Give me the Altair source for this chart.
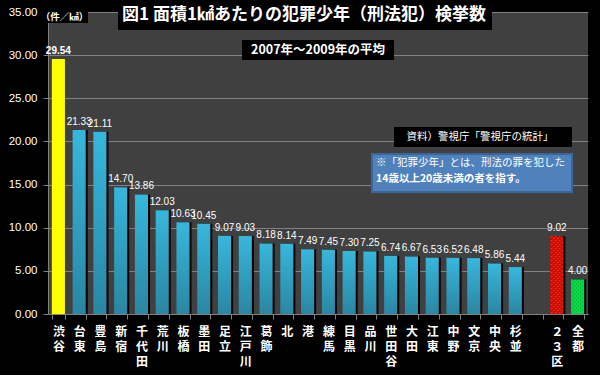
import altair as alt
import pandas as pd

# ---- data ----
categories = ["渋谷", "台東", "豊島", "新宿", "千代田", "荒川", "板橋", "墨田", "足立", "江戸川",
              "葛飾", "北", "港", "練馬", "目黒", "品川", "世田谷", "大田", "江東", "中野",
              "文京", "中央", "杉並", "２３区", "全都"]
values = [29.54, 21.33, 21.11, 14.70, 13.86, 12.03, 10.63, 10.45, 9.07, 9.03,
          8.18, 8.14, 7.49, 7.45, 7.30, 7.25, 6.74, 6.67, 6.53, 6.52,
          6.48, 5.86, 5.44, 9.02, 4.00]
groups = ["top"] + ["ward"] * 22 + ["ku", "all"]
domain = categories[:23] + [" "] + categories[23:]
y_ticks = [0, 5, 10, 15, 20, 25, 30, 35]

title_text = ["図1 面積1㎢あたりの犯罪少年（刑法犯）検挙数"]
unit_text = ["（件／㎢）"]
subtitle_text = ["2007年～2009年の平均"]
source_text = ["資料）警視庁「警視庁の統計」"]
note_line1 = ["※「犯罪少年」とは、刑法の罪を犯した"]
note_line2 = ["14歳以上20歳未満の者を指す。"]

df = pd.DataFrame({"cat": categories, "v": values, "g": groups})

GRAY = "#808080"
NUMFONT = "Liberation Sans"
xscale = alt.Scale(domain=domain, paddingInner=0.37, paddingOuter=0.185)
yscale = alt.Scale(domain=[0, 35], nice=False)

xaxis = alt.Axis(labelExpr="datum.value ? split(datum.value, '') : ''", labelAngle=0,
                 labelColor="white",
                 labelFont="Noto Sans CJK JP", labelFontSize=12, labelFontWeight="bold",
                 labelLineHeight=15, labelBaseline="top", labelPadding=7,
                 labelOverlap=False, tickBand="extent", tickColor=GRAY, tickSize=5,
                 domainColor=GRAY, title=None, grid=False)
yaxis = alt.Axis(values=y_ticks, format=".2f", labelColor="white", labelFont=NUMFONT,
                 labelFontSize=11.5, tickColor=GRAY, tickSize=5, domainColor=GRAY,
                 gridColor=GRAY, gridWidth=1, title=None, labelPadding=6)

base = alt.Chart(df)

shadow = base.transform_filter("datum.g != 'top'").mark_bar(color="black", xOffset=2).encode(
    x=alt.X("cat:N", scale=xscale, axis=xaxis, sort=domain),
    y=alt.Y("v:Q", scale=yscale, axis=yaxis),
)

xenc = alt.X("cat:N", scale=xscale, sort=domain)
yenc = alt.Y("v:Q", scale=yscale)

grad = alt.Gradient(gradient="linear",
                    stops=[alt.GradientStop(color="#37b7dc", offset=0),
                           alt.GradientStop(color="#2a86a2", offset=1)],
                    x1=0, x2=0, y1=0, y2=1)

blue = base.transform_filter("datum.g == 'ward'").mark_bar(color=grad).encode(x=xenc, y=yenc)
yellow = base.transform_filter("datum.g == 'top'").mark_bar(color="#ffff00").encode(x=xenc, y=yenc)
red = base.transform_filter("datum.g == 'ku'").mark_bar(color="#e00000").encode(x=xenc, y=yenc)
green = base.transform_filter("datum.g == 'all'").mark_bar(color="#00dd44").encode(x=xenc, y=yenc)

dots = []
for i, off in enumerate([-5, -3, -1, 1, 3, 5]):
    dots.append(
        base.transform_filter("datum.g == 'ku' || datum.g == 'all'").mark_rule(
            xOffset=off, strokeWidth=1, strokeDash=[1, 3], strokeDashOffset=(2 if i % 2 else 0)
        ).encode(
            x=xenc, y=yenc, y2=alt.datum(0),
            color=alt.condition("datum.g == 'ku'", alt.value("#33cc33"), alt.value("#009a33")),
        )
    )

labels = base.transform_filter("datum.g != 'top'").mark_text(
    color="white", font=NUMFONT, fontSize=10, baseline="bottom", dy=-3
).encode(x=xenc, y=yenc, text=alt.Text("v:Q", format=".2f"))
top_label = base.transform_filter("datum.g == 'top'").mark_text(
    color="white", font=NUMFONT, fontSize=10, fontWeight="bold", baseline="bottom", dy=-3
).encode(x=xenc, y=yenc, text=alt.Text("v:Q", format=".2f"))


def box(x1, x2, y1, y2, fill="black", stroke=None):
    kw = {"fill": fill}
    if stroke:
        kw["stroke"] = stroke
        kw["strokeWidth"] = 2
    return alt.Chart(pd.DataFrame({"a": [0]})).mark_rect(**kw).encode(
        x=alt.value(x1), x2=alt.value(x2), y=alt.value(y1), y2=alt.value(y2))


def txt(lst, x, y, size, weight="normal", align="center", font="Noto Sans CJK JP"):
    return alt.Chart(pd.DataFrame({"t": lst})).mark_text(
        color="white", font=font, fontSize=size, fontWeight=weight, align=align, baseline="middle"
    ).encode(x=alt.value(x), y=alt.value(y), text="t:N")


annotations = [
    box(70, 444, -12, 18), txt(title_text, 256, 3, 17, "bold"),
    box(-7, 40, -2, 11), txt(unit_text, 16.5, 4.5, 9.5, "bold"),
    box(194, 346, 28, 48), txt(subtitle_text, 270, 38, 12.5, "bold"),
    box(346, 524, 115, 135), txt(source_text, 432, 125, 10.5),
    box(324, 524, 142, 180, fill="#4f81bd", stroke="#3a6596"),
    txt(note_line1, 328, 151, 10.5, align="left"),
    txt(note_line2, 328, 167, 10.5, "bold", align="left"),
]

chart = alt.layer(
    shadow, blue, yellow, red, green, *dots, labels, top_label, *annotations
).properties(
    width=540, height=302,
    autosize=alt.AutoSizeParams(type="none"),
    padding={"left": 48, "top": 12, "right": 12, "bottom": 61},
    background="black",
).configure_view(fill="#404040", stroke=None)

chart.save("out.html", embed_options={"renderer": "svg", "actions": False})
